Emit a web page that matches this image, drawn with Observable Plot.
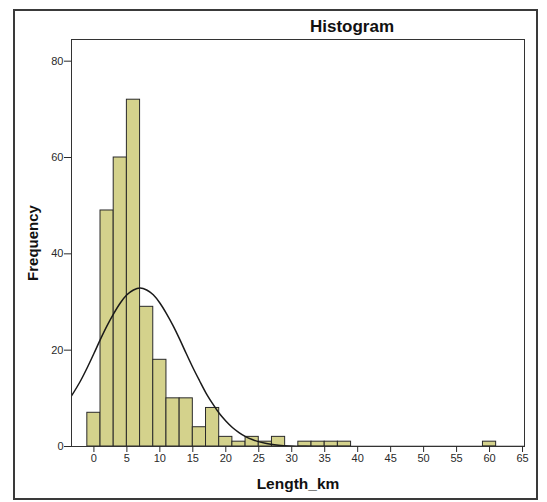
<!DOCTYPE html>
<html>
<head>
<meta charset="utf-8">
<script src="https://cdn.jsdelivr.net/npm/d3@7"></script>
<script src="https://cdn.jsdelivr.net/npm/@observablehq/plot@0.6"></script>
<style>
  html, body { margin: 0; padding: 0; background: #fff; }
  #wrap { position: relative; width: 547px; height: 502px; overflow: hidden; font-family: "Liberation Sans", Arial, sans-serif; }
  #box { position: absolute; left: 13px; top: 9px; width: 521px; height: 487px; border: 2px solid #3a3a3a; }
  #title { position: absolute; left: 252px; top: 18px; width: 200px; height: 17px; line-height: 17px; text-align: center; font-size: 17px; font-weight: bold; color: #111; }
  #chart { position: absolute; left: 0; top: 36px; }
</style>
</head>
<body>
<div id="wrap">
  <div id="box"></div>
  <div id="title">Histogram</div>
  <div id="chart"></div>
</div>
<script>
// Histogram bins (left edge, km) and counts, bin width 2
const binStart = [-1, 1, 3, 5, 7, 9, 11, 13, 15, 17, 19, 21, 23, 25, 27, 29, 31, 33, 35, 37, 59];
const counts   = [ 7, 49, 60, 72, 29, 18, 10, 10,  4,  8,  2,  1,  2,  1,  2,  0,  1,  1,  1,  1,  1];
const binWidth = 2;

// Fitted normal curve
const curveX = [-3.4, -2, -1, 0, 1, 2, 3, 4, 5, 6, 7, 8, 9, 10, 11, 12, 13, 14, 15, 16, 17, 18, 19, 20, 21, 22, 23, 24, 26, 28, 30, 32, 34, 40, 50, 65.3];
const curveY = [10.5, 13.7, 16.4, 19.3, 22.3, 25.1, 27.6, 29.8, 31.5, 32.5, 32.9, 32.5, 31.5, 29.8, 27.6, 25.1, 22.3, 19.3, 16.4, 13.7, 11.1, 8.9, 6.9, 5.3, 3.95, 2.9, 2.06, 1.44, 0.66, 0.28, 0.11, 0.04, 0.01, 0, 0, 0];

// Axis ticks
const xTicks = [0, 5, 10, 15, 20, 25, 30, 35, 40, 45, 50, 55, 60, 65];
const yTicks = [0, 20, 40, 60, 80];

const bars = binStart.map((s, i) => ({x1: s, x2: s + binWidth, count: counts[i]})).filter(d => d.count > 0);
const curve = curveX.map((x, i) => ({x, y: curveY[i]}));

const chart = Plot.plot({
  width: 547,
  height: 466,
  marginLeft: 71,
  marginRight: 23,
  marginTop: 3,
  marginBottom: 56,
  style: {fontFamily: "'Liberation Sans', Arial, sans-serif", fontSize: "11px", color: "#2a2a2a", background: "transparent", overflow: "visible"},
  x: {domain: [-3.4, 65.3]},
  y: {domain: [0, 84.5]},
  marks: [
    Plot.rectY(bars, {x1: "x1", x2: "x2", y: "count", fill: "#d4d28c", stroke: "#2a2a2a", strokeWidth: 1, inset: 0}),
    Plot.line(curve, {x: "x", y: "y", curve: "monotone-x", stroke: "#1a1a1a", strokeWidth: 1.5, clip: true}),
    Plot.frame({stroke: "#333", strokeWidth: 1}),
    Plot.axisX({ticks: xTicks, tickSize: 6, tickPadding: 2, label: null, tickFormat: d => String(d)}),
    Plot.axisY({ticks: yTicks, tickSize: 7, tickPadding: 1, label: null, tickFormat: d => String(d)}),
    Plot.text(["Length_km"], {frameAnchor: "bottom", dy: 42, lineAnchor: "bottom", text: d => d, fontSize: 15.5, fontWeight: "bold", fill: "#111"}),
    Plot.text(["Frequency"], {frameAnchor: "left", dx: -34, rotate: -90, lineAnchor: "bottom", textAnchor: "middle", text: d => d, fontSize: 15, fontWeight: "bold", fill: "#111"})
  ]
});
document.getElementById("chart").appendChild(chart);
</script>
</body>
</html>
